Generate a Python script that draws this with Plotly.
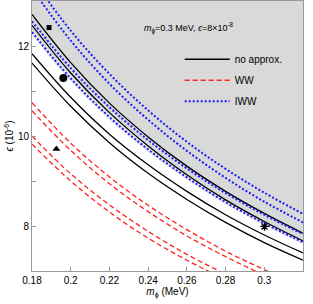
import plotly.graph_objects as go

# ---- data ----
m_phi = [0.18, 0.20, 0.22, 0.24, 0.26, 0.28, 0.30, 0.32]

# no approx. (black solid)
exact_1 = [12.70, 11.63, 10.73, 9.98, 9.33, 8.77, 8.28, 7.84]
exact_2 = [12.46, 11.40, 10.52, 9.78, 9.14, 8.58, 8.10, 7.67]
exact_3 = [11.83, 10.86, 10.04, 9.36, 8.77, 8.25, 7.80, 7.40]
exact_4 = [11.62, 10.66, 9.85, 9.17, 8.59, 8.08, 7.63, 7.24]

# WW (red dashed)
ww_1 = [10.74, 9.84, 9.09, 8.46, 7.92, 7.44, 7.03, 6.66]
ww_2 = [10.56, 9.68, 8.94, 8.32, 7.78, 7.32, 6.91, 6.55]
ww_3 = [10.00, 9.16, 8.47, 7.88, 7.37, 6.93, 6.54, 6.20]
ww_4 = [9.82, 9.00, 8.31, 7.73, 7.24, 6.81, 6.43, 6.09]

# IWW (blue dotted)
iww_1 = [13.50, 12.34, 11.38, 10.57, 9.87, 9.27, 8.74, 8.27]
iww_2 = [13.27, 12.12, 11.16, 10.36, 9.67, 9.07, 8.54, 8.08]
iww_3 = [12.55, 11.51, 10.64, 9.91, 9.28, 8.73, 8.25, 7.82]
iww_4 = [12.31, 11.28, 10.42, 9.70, 9.08, 8.53, 8.06, 7.64]

# benchmark points
pt_square = (0.1888, 12.41)
pt_circle = (0.1962, 11.29)
pt_triangle = (0.1926, 9.71)
pt_star = (0.3001, 7.99)

x_range = [0.18, 0.32]
y_range = [7.0, 13.0]

fig = go.Figure()

# shaded excluded region: above the lowest IWW curve
fig.add_trace(go.Scatter(x=m_phi, y=[y_range[1]] * len(m_phi), mode="lines",
                         line=dict(width=0, color="rgba(0,0,0,0)"),
                         showlegend=False, hoverinfo="skip"))
fig.add_trace(go.Scatter(x=m_phi, y=iww_4, mode="lines", line_shape="spline",
                         line=dict(width=0, color="rgba(0,0,0,0)"),
                         fill="tonexty", fillcolor="#d9d9d9",
                         showlegend=False, hoverinfo="skip"))
# soft halo along the boundary
fig.add_trace(go.Scatter(x=m_phi, y=iww_4, mode="lines", line_shape="spline",
                         line=dict(width=4, color="#e6e6e6"),
                         showlegend=False, hoverinfo="skip"))

black = dict(color="black", width=1.3)
red = dict(color="#ff2020", width=1.3, dash="5px,3px")
blue = dict(color="#1a1aff", width=2, dash="2px,2px")

for i, ys in enumerate([exact_1, exact_2, exact_3, exact_4]):
    fig.add_trace(go.Scatter(x=m_phi, y=ys, mode="lines", line_shape="spline",
                             line=black, name="no approx.", legendgroup="a",
                             showlegend=(i == 0)))
for i, ys in enumerate([ww_1, ww_2, ww_3, ww_4]):
    fig.add_trace(go.Scatter(x=m_phi, y=ys, mode="lines", line_shape="spline",
                             line=red, name="WW", legendgroup="b",
                             showlegend=(i == 0)))
for i, ys in enumerate([iww_1, iww_2, iww_3, iww_4]):
    fig.add_trace(go.Scatter(x=m_phi, y=ys, mode="lines", line_shape="spline",
                             line=blue, name="IWW", legendgroup="c",
                             showlegend=(i == 0)))

fig.add_trace(go.Scatter(x=[pt_square[0]], y=[pt_square[1]], mode="markers",
                         marker=dict(symbol="square", size=5, color="black"),
                         showlegend=False))
fig.add_trace(go.Scatter(x=[pt_circle[0]], y=[pt_circle[1]], mode="markers",
                         marker=dict(symbol="circle", size=8, color="black"),
                         showlegend=False))
fig.add_trace(go.Scatter(x=[pt_triangle[0]], y=[pt_triangle[1]], mode="markers",
                         marker=dict(symbol="triangle-up", size=7, color="black"),
                         showlegend=False))
fig.add_trace(go.Scatter(x=[pt_star[0]], y=[pt_star[1]], mode="markers",
                         marker=dict(symbol="asterisk", size=7, color="black",
                                     line=dict(color="black", width=1.3)),
                         showlegend=False))

fig.add_annotation(text="<i>m</i><sub>ϕ</sub>=0.3 MeV, <i>ϵ</i>=8×10<sup>-8</sup>",
                   xref="paper", yref="paper", x=0.58, y=0.935,
                   showarrow=False, font=dict(size=9, color="black"))

axis_common = dict(showgrid=False, zeroline=False, showline=True,
                   linecolor="#999999", linewidth=1, mirror=True,
                   ticks="inside", ticklen=4, tickcolor="#999999",
                   tickfont=dict(size=10, color="black"), automargin=False)

fig.update_xaxes(range=x_range, tickvals=[0.18, 0.20, 0.22, 0.24, 0.26, 0.28, 0.30, 0.32],
                 ticktext=["0.18", "0.2", "0.22", "0.24", "0.26", "0.28", "0.3", "0.32"],
                 title=dict(text="<i>m</i><sub>ϕ</sub> (MeV)", font=dict(size=10), standoff=2),
                 **axis_common)
fig.update_yaxes(range=y_range, tickvals=[7, 8, 9, 10, 11, 12, 13],
                 ticktext=["", "8", "", "10", "", "12", ""],
                 title=dict(text="<i>ϵ</i> (10<sup>-6</sup>)", font=dict(size=10), standoff=2),
                 **axis_common)

fig.update_layout(
    width=313, height=304,
    margin=dict(l=32, r=10, t=1, b=33),
    plot_bgcolor="white", paper_bgcolor="white",
    font=dict(family="Liberation Sans, Arial, sans-serif", color="black"),
    legend=dict(x=0.545, y=0.838, xanchor="left", yanchor="top",
                bgcolor="rgba(0,0,0,0)", borderwidth=0,
                font=dict(size=10), itemwidth=45, tracegroupgap=2),
)

fig.write_html("out.html", config={"displayModeBar": False},
               post_script="document.body.style.margin='0';document.body.style.overflow='hidden';")
